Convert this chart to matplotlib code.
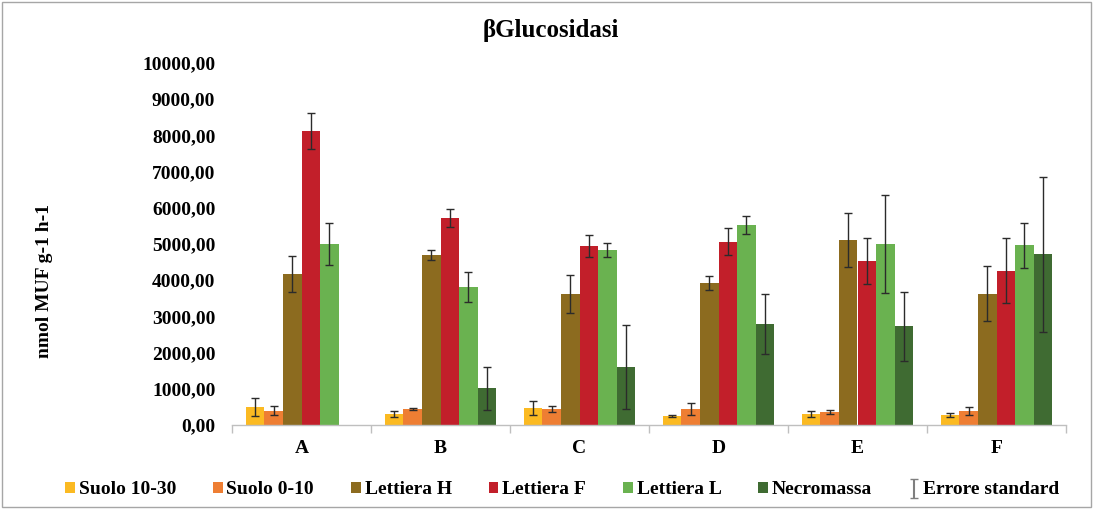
import matplotlib
matplotlib.use("Agg")
import matplotlib.pyplot as plt
import numpy as np
from matplotlib.patches import Rectangle, Patch
from matplotlib.ticker import FuncFormatter, FixedLocator

plt.rcParams['font.family'] = ['Liberation Serif', 'DejaVu Serif']
plt.rcParams['font.weight'] = 'bold'

categories = ['A', 'B', 'C', 'D', 'E', 'F']
series_names = ['Suolo 10-30', 'Suolo 0-10', 'Lettiera H', 'Lettiera F', 'Lettiera L', 'Necromassa']

suolo_10_30 = [490, 300, 460, 250, 300, 280]
suolo_10_30_err = [245, 80, 190, 30, 75, 60]
suolo_0_10 = [400, 440, 440, 450, 360, 390]
suolo_0_10_err = [135, 20, 90, 165, 60, 100]
lettiera_h = [4170, 4700, 3620, 3920, 5110, 3630]
lettiera_h_err = [490, 140, 520, 200, 750, 760]
lettiera_f = [8120, 5720, 4950, 5060, 4530, 4260]
lettiera_f_err = [500, 260, 300, 370, 630, 900]
lettiera_l = [5000, 3820, 4830, 5520, 5000, 4960]
lettiera_l_err = [580, 420, 190, 250, 1360, 620]
necromassa = [np.nan, 1010, 1610, 2790, 2730, 4720]
necromassa_err = [np.nan, 590, 1160, 830, 950, 2140]

values = [suolo_10_30, suolo_0_10, lettiera_h, lettiera_f, lettiera_l, necromassa]
errors = [suolo_10_30_err, suolo_0_10_err, lettiera_h_err, lettiera_f_err, lettiera_l_err, necromassa_err]
colors = ['#FBBA22', '#EE7E33', '#8C6B1F', '#C21F2A', '#6AB250', '#3F6B32']

fig = plt.figure(figsize=(10.94, 5.09), dpi=100)
ax = fig.add_axes([232/1094, 1-425/509, (1066-232)/1094, (425-63)/509])

x = np.arange(len(categories))
w = 0.134
for i, (vals, errs, col, name) in enumerate(zip(values, errors, colors, series_names)):
    pos = x + (i - 2.5) * w
    ax.bar(pos, vals, width=w, color=col, label=name, zorder=2)
    ax.errorbar(pos, vals, yerr=errs, fmt='none', ecolor='#2b2b2b', elinewidth=1,
                capsize=3, capthick=1, zorder=3)

ax.set_xlim(-0.5, 5.5)
ax.set_ylim(0, 10000)
ax.set_yticks(np.arange(0, 10001, 1000))
ax.yaxis.set_major_formatter(FuncFormatter(lambda v, p: f"{v:.2f}".replace('.', ',')))
ax.set_xticks(x)
ax.set_xticklabels(categories)
ax.xaxis.set_minor_locator(FixedLocator(np.arange(-0.5, 6, 1)))
ax.tick_params(axis='x', which='major', length=0, pad=11, labelsize=14)
ax.tick_params(axis='x', which='minor', length=6, color='#BFBFBF', width=1)
ax.tick_params(axis='y', length=0, pad=12, labelsize=14)
for lab in ax.get_xticklabels() + ax.get_yticklabels():
    lab.set_fontweight('bold')

for s in ['top', 'right', 'left']:
    ax.spines[s].set_visible(False)
ax.spines['bottom'].set_color('#BFBFBF')
ax.spines['bottom'].set_linewidth(1)

fig.text(45/1094, 1-281/509, 'nmol MUF g-1 h-1', rotation=90, ha='center', va='center',
         fontsize=14, fontweight='bold')

fig.text(551/1094, 1-30/509, 'βGlucosidasi', ha='center', va='center',
         fontsize=18, fontweight='bold')

handles = [Patch(facecolor=c, edgecolor='none') for c in colors]
eb = ax.errorbar([np.nan], [np.nan], yerr=[np.nan], fmt='none', ecolor='#7f7f7f',
                 capsize=3, elinewidth=1.5)
handles.append(eb)
labels = series_names + ['Errore standard']
leg = fig.legend(handles, labels, loc='center', bbox_to_anchor=(562/1094, 1-490/509),
                 ncol=7, frameon=False, handlelength=0.5, handleheight=0.5,
                 handletextpad=0.2, columnspacing=1.9, prop={'weight': 'bold', 'size': 14})

fig.patches.append(Rectangle((0.002, 0.004), 0.995, 0.992, transform=fig.transFigure,
                             fill=False, edgecolor='#A6A6A6', linewidth=1))

fig.savefig('out.png', dpi=100)
